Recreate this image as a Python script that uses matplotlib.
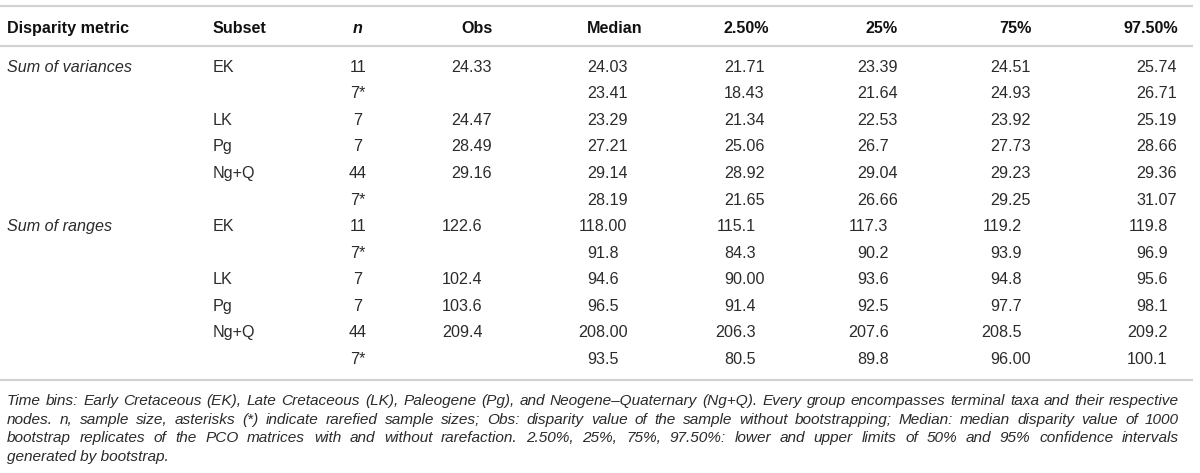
import matplotlib
matplotlib.use("Agg")
import matplotlib.pyplot as plt

# ---------------- data ----------------
columns = ["Disparity metric", "Subset", "n", "Obs", "Median", "2.50%", "25%", "75%", "97.50%"]
metric = ["Sum of variances", "", "", "", "", "", "Sum of ranges", "", "", "", "", ""]
subset = ["EK", "", "LK", "Pg", "Ng+Q", "", "EK", "", "LK", "Pg", "Ng+Q", ""]
n_size = ["11", "7*", "7", "7", "44", "7*", "11", "7*", "7", "7", "44", "7*"]
obs = ["24.33", "", "24.47", "28.49", "29.16", "", "122.6", "", "102.4", "103.6", "209.4", ""]
median = ["24.03", "23.41", "23.29", "27.21", "29.14", "28.19",
          "118.00", "91.8", "94.6", "96.5", "208.00", "93.5"]
p2_5 = ["21.71", "18.43", "21.34", "25.06", "28.92", "21.65",
        "115.1", "84.3", "90.00", "91.4", "206.3", "80.5"]
p25 = ["23.39", "21.64", "22.53", "26.7", "29.04", "26.66",
       "117.3", "90.2", "93.6", "92.5", "207.6", "89.8"]
p75 = ["24.51", "24.93", "23.92", "27.73", "29.23", "29.25",
       "119.2", "93.9", "94.8", "97.7", "208.5", "96.00"]
p97_5 = ["25.74", "26.71", "25.19", "28.66", "29.36", "31.07",
         "119.8", "96.9", "95.6", "98.1", "209.2", "100.1"]
footer_lines = [
    "Time bins: Early Cretaceous (EK), Late Cretaceous (LK), Paleogene (Pg), and Neogene\u2013Quaternary (Ng+Q). Every group encompasses terminal taxa and their respective",
    "nodes. n, sample size, asterisks (*) indicate rarefied sample sizes; Obs: disparity value of the sample without bootstrapping; Median: median disparity value of 1000",
    "bootstrap replicates of the PCO matrices with and without rarefaction. 2.50%, 25%, 75%, 97.50%: lower and upper limits of 50% and 95% confidence intervals",
    "generated by bootstrap.",
]

# ---------------- layout ----------------
W, H = 1200, 473
DPI = 100
FONT = ["Liberation Sans", "DejaVu Sans"]
FS = 11.6          # table font size (pt)
FS_FOOT = 11.1     # footer font size (pt)
TXT = "#2b2b2b"
HEAD = "#111111"
RULE = "#d2d2d2"

fig = plt.figure(figsize=(W / DPI, H / DPI), dpi=DPI)
ax = fig.add_axes([0, 0, 1, 1])
ax.set_xlim(0, W)
ax.set_ylim(H, 0)
ax.axis("off")
fig.canvas.draw()
renderer = fig.canvas.get_renderer()
inv = ax.transData.inverted()


def width_data(t):
    bb = t.get_window_extent(renderer=renderer)
    (x0, _), (x1, _) = inv.transform([[bb.x0, bb.y0], [bb.x1, bb.y1]])
    return abs(x1 - x0)


header_y = 27
row_y0, row_dy = 66, 26.55
base_off = 5.8

# rules
for yy in (6, 46, 380):
    ax.plot([0, 1193], [yy, yy], color=RULE, lw=1.6, solid_capstyle="butt")

# header
hdr_kw = dict(fontsize=FS, fontweight="bold", color=HEAD, family=FONT, va="baseline")
hb = header_y + base_off
ax.text(7, hb, columns[0], ha="left", **hdr_kw)
ax.text(213, hb, columns[1], ha="left", **hdr_kw)
ax.text(358, hb, columns[2], ha="center", style="italic", **hdr_kw)
ax.text(493, hb, columns[3], ha="right", **hdr_kw)
ax.text(587, hb, columns[4], ha="left", **hdr_kw)
ax.text(724, hb, columns[5], ha="left", **hdr_kw)
ax.text(898, hb, columns[6], ha="right", **hdr_kw)
ax.text(1032, hb, columns[7], ha="right", **hdr_kw)
ax.text(1178, hb, columns[8], ha="right", **hdr_kw)

cell_kw = dict(fontsize=FS, color=TXT, family=FONT, va="baseline")


def dec_text(x_dec, y, s):
    """Place number so that its decimal point sits at x_dec."""
    if not s:
        return
    ip = s.split(".", 1)[0]
    probe = ax.text(0, y, ip, ha="left", **cell_kw)
    w = width_data(probe)
    probe.remove()
    ax.text(x_dec - w, y, s, ha="left", **cell_kw)


dec_cols = [(469, obs), (605, median), (742, p2_5), (875, p25), (1008, p75), (1154, p97_5)]

for i in range(len(n_size)):
    yb = row_y0 + i * row_dy + base_off
    if metric[i]:
        ax.text(7, yb, metric[i], ha="left", style="italic", **cell_kw)
    if subset[i]:
        ax.text(213, yb, subset[i], ha="left", **cell_kw)
    ax.text(358, yb, n_size[i], ha="center", **cell_kw)
    for xd, col in dec_cols:
        dec_text(xd, yb, col[i])

# footer: justified italic text
foot_kw = dict(fontsize=FS_FOOT, color=TXT, family=FONT, style="italic", va="baseline", ha="left")
x_left, x_right = 7, 1179
foot_y0, foot_dy = 400, 18.5

for li, line in enumerate(footer_lines):
    yb = foot_y0 + li * foot_dy + 5
    if li == len(footer_lines) - 1:
        ax.text(x_left, yb, line, **foot_kw)
        continue
    words = line.split(" ")
    arts = [ax.text(0, yb, w, **foot_kw) for w in words]
    widths = [width_data(a) for a in arts]
    gap = (x_right - x_left - sum(widths)) / (len(words) - 1)
    x = x_left
    for a, w in zip(arts, widths):
        a.set_x(x)
        x += w + gap

fig.savefig("out.png", dpi=DPI, facecolor="white")
